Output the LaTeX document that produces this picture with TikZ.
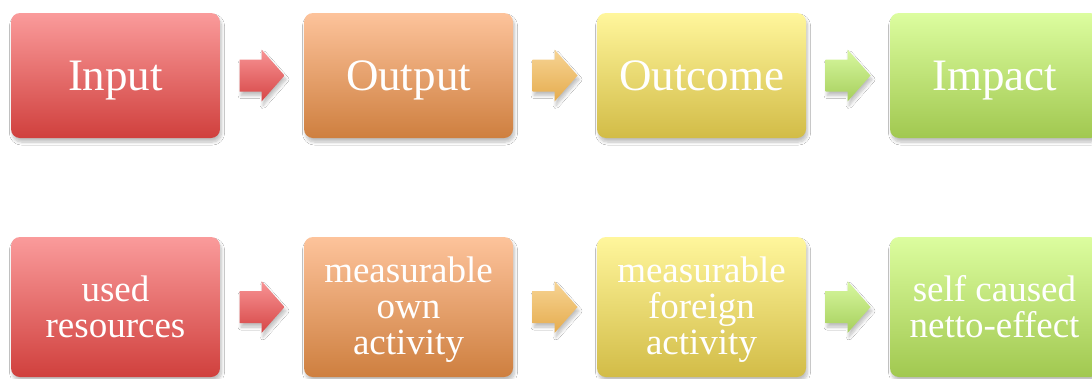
\documentclass[tikz,border=0pt]{standalone}
\usepackage{fontspec}
\setmainfont{Liberation Serif}
\usetikzlibrary{shadows.blur}

% box gradients (top / bottom)
\definecolor{redT}{HTML}{FA9B9B}
\definecolor{redB}{HTML}{D0403D}
\definecolor{orgT}{HTML}{FDC39B}
\definecolor{orgB}{HTML}{CE7F3F}
\definecolor{yelT}{HTML}{FFF69C}
\definecolor{yelB}{HTML}{D2BC47}
\definecolor{grnT}{HTML}{DCFD9F}
\definecolor{grnB}{HTML}{A1C850}
% arrow gradients
\definecolor{arRT}{HTML}{F89495}
\definecolor{arRB}{HTML}{D64646}
\definecolor{arOT}{HTML}{F7D494}
\definecolor{arOB}{HTML}{E5AC4E}
\definecolor{arGT}{HTML}{D8F8A0}
\definecolor{arGB}{HTML}{A6CF5C}

% fixed first-line height and last-line depth for multi-line labels
\newcommand\firstline{\rule{0pt}{30pt}}
\newcommand\lastline{\rule[-5pt]{0pt}{5pt}}

\tikzset{
  softshadow/.style={blur shadow={shadow xshift=1.5pt, shadow yshift=-4pt,
      shadow blur radius=3pt, shadow blur steps=8, shadow opacity=25}},
  box/.style 2 args={rounded corners=9pt, minimum width=209pt, inner sep=0pt,
      top color=#1, bottom color=#2, softshadow, text=white, align=center},
  topbox/.style={minimum height=125pt, text height=39pt, text depth=10pt,
      font=\fontsize{45}{45}\selectfont},
  lowbox/.style={minimum height=140pt, font=\fontsize{37}{36}\selectfont},
  pics/blockarrow/.style 2 args={code={
      \path[softshadow, top color=#1, bottom color=#2]
        (-22.5,-16) -- (-0.5,-16) -- (-0.5,-26) -- (22.5,0)
        -- (-0.5,26) -- (-0.5,16) -- (-22.5,16) -- cycle;}}
}

\begin{document}
\begin{tikzpicture}[x=1pt,y=-1pt]
\useasboundingbox (0,0) rectangle (1092,378);
\fill[white] (0,0) rectangle (1092,378);

% upper row
\node[box={redT}{redB}, topbox] (a1) at (115.5,75.5) {Input};
\node[box={orgT}{orgB}, topbox] (a2) at (408.5,75.5) {Output};
\node[box={yelT}{yelB}, topbox] (a3) at (701.5,75.5) {Outcome};
\node[box={grnT}{grnB}, topbox] (a4) at (994.5,75.5) {Impact};

% lower row
\node[box={redT}{redB}, lowbox] (b1) at (115.5,307)
  {\firstline used\\resources\lastline};
\node[box={orgT}{orgB}, lowbox] (b2) at (408.5,307)
  {\firstline measurable\\own\\activity\lastline};
\node[box={yelT}{yelB}, lowbox] (b3) at (701.5,307)
  {\firstline measurable\\foreign\\activity\lastline};
\node[box={grnT}{grnB}, lowbox] (b4) at (994.5,307)
  {\firstline self caused\\netto-effect\lastline};

% block arrows between neighbouring boxes
\path (a1.east) -- (a2.west) coordinate[midway] (ma1);
\path (a2.east) -- (a3.west) coordinate[midway] (ma2);
\path (a3.east) -- (a4.west) coordinate[midway] (ma3);
\path (b1.east) -- (b2.west) coordinate[midway] (mb1);
\path (b2.east) -- (b3.west) coordinate[midway] (mb2);
\path (b3.east) -- (b4.west) coordinate[midway] (mb3);

\pic at (ma1) {blockarrow={arRT}{arRB}};
\pic at (ma2) {blockarrow={arOT}{arOB}};
\pic at (ma3) {blockarrow={arGT}{arGB}};
\pic at (mb1) {blockarrow={arRT}{arRB}};
\pic at (mb2) {blockarrow={arOT}{arOB}};
\pic at (mb3) {blockarrow={arGT}{arGB}};
\end{tikzpicture}
\end{document}
